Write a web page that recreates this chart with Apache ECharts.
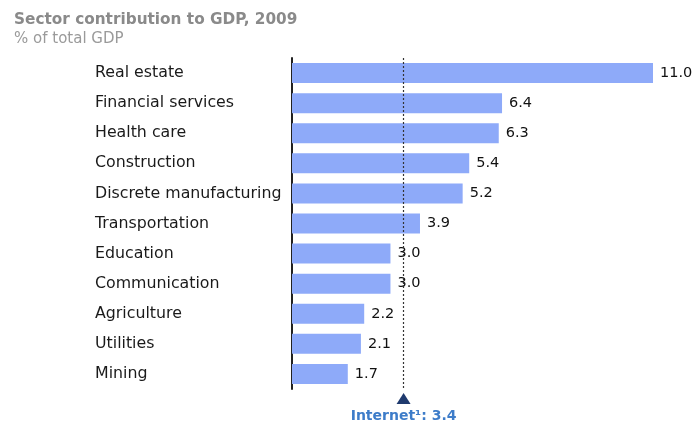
<!DOCTYPE html>
<html><head><meta charset="utf-8">
<script src="https://cdn.jsdelivr.net/npm/echarts@6/dist/echarts.min.js"></script>
<style>html,body{margin:0;padding:0;background:#fff}#c{width:695px;height:425px}</style>
</head><body><div id="c"></div>
<script>
const categories = ["Real estate","Financial services","Health care","Construction","Discrete manufacturing","Transportation","Education","Communication","Agriculture","Utilities","Mining"];
const values = [11.0, 6.4, 6.3, 5.4, 5.2, 3.9, 3.0, 3.0, 2.2, 2.1, 1.7];
const internetValue = 3.4;
const internetLabel = "Internet\u00B9: 3.4";

const FONT = 'DejaVu Sans, Verdana, sans-serif';
const chart = echarts.init(document.getElementById('c'));
chart.setOption({
  animation: false,
  textStyle: { fontFamily: FONT },
  title: {
    text: 'Sector contribution to GDP, 2009',
    subtext: '% of total GDP',
    left: 9, top: 8, itemGap: 4,
    textStyle: { fontSize: 15.3, fontWeight: 'bold', color: '#8a8a8a', fontFamily: FONT },
    subtextStyle: { fontSize: 15, color: '#9a9a9a', fontFamily: FONT }
  },
  grid: { left: 292, top: 58, width: 361, height: 331, containLabel: false },
  xAxis: { type: 'value', min: 0, max: 11, show: false },
  yAxis: {
    type: 'category', data: categories, inverse: true,
    axisLine: { show: true, lineStyle: { color: '#222', width: 2 } },
    axisTick: { show: false },
    axisLabel: { align: 'left', margin: 197, fontSize: 15.8, color: '#1a1a1a', fontFamily: FONT }
  },
  series: [{
    type: 'bar', data: values, barWidth: 20,
    itemStyle: { color: '#8eaaf9' },
    label: { show: true, position: 'right', distance: 7, fontSize: 14.5, color: '#111', fontFamily: FONT,
      formatter: p => p.value.toFixed(1) },
    markLine: {
      silent: true, symbol: 'none', label: { show: false },
      lineStyle: { type: [2, 2], color: '#333', width: 1.2 },
      data: [{ xAxis: internetValue }]
    }
  }]
});
const px = chart.convertToPixel({ xAxisIndex: 0 }, internetValue);
chart.setOption({
  graphic: [
    { type: 'polygon', shape: { points: [[px - 7, 404], [px + 7, 404], [px, 393]] }, style: { fill: '#1f3a6e' } },
    { type: 'text', x: px, y: 416, style: { text: internetLabel, fontSize: 14, fontWeight: 'bold', fill: '#3d7cc9', align: 'center', verticalAlign: 'middle', fontFamily: FONT } }
  ]
});
</script></body></html>
